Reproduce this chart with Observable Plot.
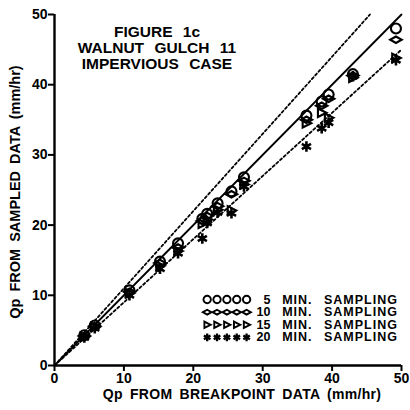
<!DOCTYPE html>
<html>
<head>
<meta charset="utf-8">
<script src="https://cdn.jsdelivr.net/npm/d3@7"></script>
<script src="https://cdn.jsdelivr.net/npm/@observablehq/plot@0.6"></script>
<style>
  html, body { margin: 0; padding: 0; background: #fff; }
  svg text { font-family: "Liberation Sans", Arial, sans-serif; font-weight: bold; fill: #000; }
</style>
</head>
<body>
<div id="chart"></div>
<script>
// ---- data ----
const xBreak   = [4.3, 5.8, 10.8, 15.2, 17.8, 21.3, 22.0, 23.5, 25.5, 27.3, 36.3, 38.5, 39.5, 43.0, 49.2];
const min5     = [4.3, 5.7, 10.7, 14.8, 17.4, 20.9, 21.6, 23.1, 24.8, 26.8, 35.6, 37.6, 38.6, 41.5, 48.0];
const min10    = [4.2, 5.6, 10.5, 14.6, 16.8, 20.6, 21.3, 22.7, 24.4, 26.3, 35.0, 37.0, 38.0, 41.3, 46.4];
const min15    = [4.1, 5.5, 10.3, 14.2, 16.3, 20.2, 20.8, 22.2, 22.1, 25.8, 34.5, 36.0, 35.3, 41.0, 43.8];
const min20    = [4.0, 5.3, 10.0, 13.8, 16.0, 18.1, 20.3, 21.8, 21.7, 25.5, 31.2, 33.8, 34.6, 41.2, 43.5];
const seriesNames  = ["5", "10", "15", "20"];
const seriesText   = "MIN. SAMPLING";
const refSlopes = [1.0, 1.1, 0.9];
const xTicks = [0, 10, 20, 30, 40, 50];
const yTicks = [0, 10, 20, 30, 40, 50];
const titleLines = ["FIGURE 1c", "WALNUT GULCH 11", "IMPERVIOUS CASE"];
const xLabel = "Qp FROM BREAKPOINT DATA (mm/hr)";
const yLabel = "Qp FROM SAMPLED DATA (mm/hr)";

// ---- custom symbols ----
const diamondH = { draw(ctx, size) { const r = Math.sqrt(size / Math.PI);
  ctx.moveTo(-r * 1.15, 0); ctx.lineTo(0, -r * 0.65); ctx.lineTo(r * 1.15, 0); ctx.lineTo(0, r * 0.65); ctx.closePath(); } };
const triRight = { draw(ctx, size) { const r = Math.sqrt(size / Math.PI);
  ctx.moveTo(r * 0.95, 0); ctx.lineTo(-r * 0.75, -r * 0.85); ctx.lineTo(-r * 0.75, r * 0.85); ctx.closePath(); } };
const symbolFor = {"5": "circle", "10": diamondH, "15": triRight, "20": "asterisk"};

const allSeries = [min5, min10, min15, min20];
const points = [];
allSeries.forEach((vals, si) => vals.forEach((v, i) => points.push({x: xBreak[i], y: v, s: seriesNames[si]})));

const refLines = [];
refSlopes.forEach((k, li) => {
  const xEnd = Math.min(50, 50 / k);
  refLines.push({x: 0, y: 0, id: li}, {x: xEnd, y: xEnd * k, id: li});
});

// legend (inside the frame, in data units)
const legendRows = seriesNames.map((s, i) => ({s, y: 9.4 - i * 1.8}));
const legendSyms = [];
legendRows.forEach(r => { for (let k = 0; k < 5; k++) legendSyms.push({s: r.s, x: 22.0 + k * 1.42, y: r.y}); });

const marks = [];
// reference lines
marks.push(Plot.line(refLines.filter(d => d.id === 0), {x: "x", y: "y", stroke: "#000", strokeWidth: 1.8}));
marks.push(Plot.line(refLines.filter(d => d.id !== 0), {x: "x", y: "y", z: "id", stroke: "#000", strokeWidth: 1.8, strokeDasharray: "2.5,2.5"}));
// points
seriesNames.forEach(s => {
  marks.push(Plot.dot(points.filter(d => d.s === s), {x: "x", y: "y", symbol: () => symbolFor[s], r: 5,
    stroke: "#000", strokeWidth: s === "20" ? 2.6 : 2.1, fill: "none"}));
  marks.push(Plot.dot(legendSyms.filter(d => d.s === s), {x: "x", y: "y", symbol: () => symbolFor[s], r: s === "20" ? 3.6 : 3.7,
    stroke: "#000", strokeWidth: s === "20" ? 2.3 : 1.9, fill: "none"}));
});
marks.push(Plot.text(legendRows, {x: () => 31.1, y: "y", text: "s", textAnchor: "end", fontSize: 12.5, fontWeight: "bold"}));
marks.push(Plot.text(legendRows, {x: () => 32.8, y: "y", text: () => seriesText, textAnchor: "start", fontSize: 12.5, fontWeight: "bold"}));
// axes
marks.push(Plot.axisX({ticks: xTicks, tickSize: 6, tickPadding: 2, fontSize: 14, fontWeight: "bold", label: null, strokeWidth: 2}));
marks.push(Plot.axisY({ticks: yTicks, tickSize: 6, tickPadding: 1, fontSize: 14, fontWeight: "bold", label: null, strokeWidth: 2}));
marks.push(Plot.ruleX([0], {stroke: "#000", strokeWidth: 2.4}));
marks.push(Plot.ruleY([0], {stroke: "#000", strokeWidth: 2.4}));

const chart = Plot.plot({
  width: 410, height: 410,
  marginLeft: 54, marginRight: 9, marginTop: 14, marginBottom: 45,
  x: {domain: [0, 50]},
  y: {domain: [0, 50]},
  marks
});

const svg = d3.select(chart);
// widen the legend wording like the original lettering
svg.selectAll("text").filter(function () { return this.textContent === seriesText; })
   .style("word-spacing", "7px").style("letter-spacing", "1px");
// titles and axis labels added to the SVG as text
const tg = svg.append("g").attr("font-size", 15.5).attr("text-anchor", "middle");
titleLines.forEach((t, i) => tg.append("text").attr("x", 157).attr("y", 37 + i * 16).attr("style", "word-spacing:6px").text(t));
svg.append("text").attr("x", 242).attr("y", 399).attr("text-anchor", "middle").attr("font-size", 14)
   .attr("style", "word-spacing:3px;letter-spacing:0.3px").text(xLabel);
svg.append("text").attr("transform", "translate(20,192) rotate(-90)").attr("text-anchor", "middle").attr("font-size", 14.5)
   .attr("style", "word-spacing:3px").text(yLabel);
document.getElementById("chart").appendChild(chart);
</script>
</body>
</html>
